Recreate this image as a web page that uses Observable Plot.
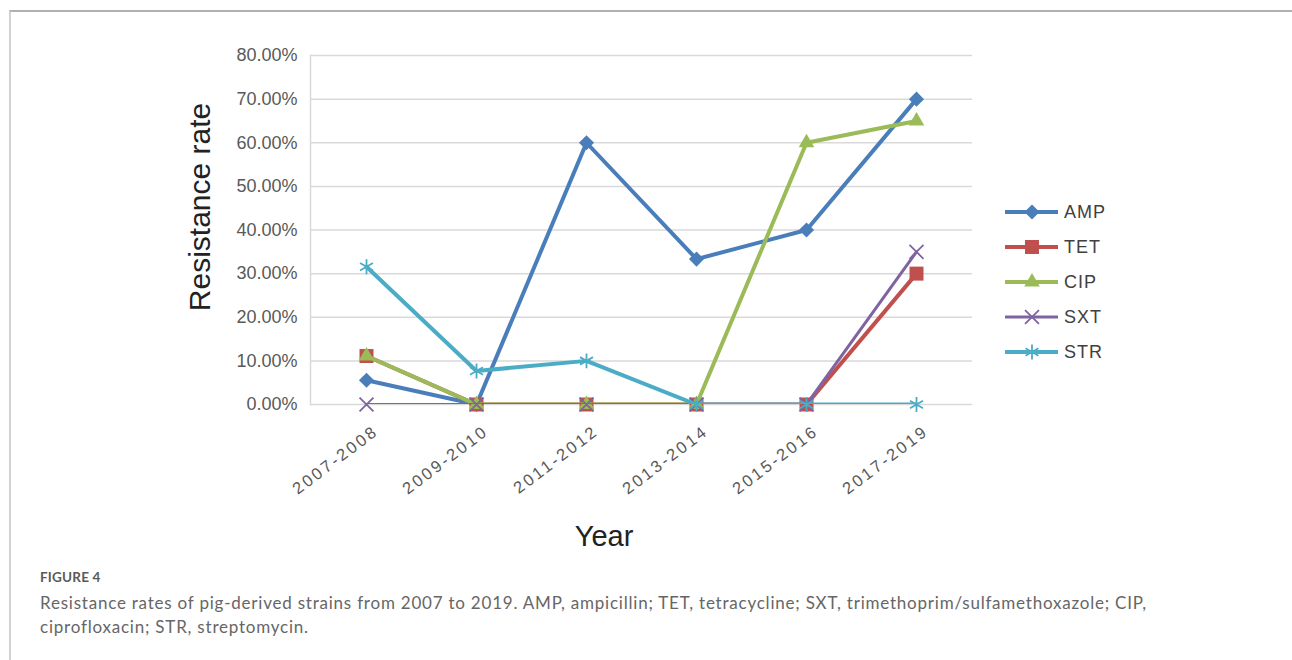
<!DOCTYPE html>
<html><head><meta charset="utf-8">
<script src="https://cdn.jsdelivr.net/npm/d3@7"></script>
<script src="https://cdn.jsdelivr.net/npm/@observablehq/plot@0.6"></script>
<style>
html,body{margin:0;padding:0;background:#fff}
body{width:1292px;height:660px;overflow:hidden;position:relative;font-family:"Liberation Sans",Arial,sans-serif}
#box{position:absolute;left:9px;top:10px;width:1300px;height:700px;border-top:2px solid #b0b0b0;border-left:2px solid #d2d2d2}
#chart{position:absolute;left:0;top:0}
#legend{position:absolute;left:0;top:0}
.ytitle{position:absolute;left:200px;top:207px;transform:translate(-50%,-50%) rotate(-90deg);font-size:30px;color:#222;white-space:nowrap}
.xtitle{position:absolute;left:604px;top:536px;transform:translate(-50%,-50%);font-size:29px;color:#222;white-space:nowrap}
#fig{position:absolute;left:40px;top:569px;font-family:Lato,"Open Sans",sans-serif;font-size:13.5px;font-weight:700;color:#5a5a5a;letter-spacing:0.2px}
#cap{position:absolute;left:40px;top:591px;width:1130px;font-family:Lato,"Open Sans",sans-serif;font-size:17px;line-height:24px;color:#666;letter-spacing:0.78px}
</style>
</head><body>
<div id="box"></div>
<div id="chart"></div>
<svg id="legend" width="1292" height="560"></svg>
<div class="ytitle">Resistance rate</div>
<div class="xtitle">Year</div>
<div id="fig">FIGURE 4</div>
<div id="cap">Resistance rates of pig-derived strains from 2007 to 2019. AMP, ampicillin; TET, tetracycline; SXT, trimethoprim/sulfamethoxazole; CIP, ciprofloxacin; STR, streptomycin.</div>
<script>
// ---- data ----
const years = ["2007-2008","2009-2010","2011-2012","2013-2014","2015-2016","2017-2019"];
const AMP = [0.0556, 0, 0.60, 0.3333, 0.40, 0.70];
const TET = [0.1111, 0, 0, 0, 0, 0.30];
const CIP = [0.1111, 0, 0, 0, 0.60, 0.65];
const SXT = [0, 0, 0, 0, 0, 0.35];
const STR = [0.3158, 0.0769, 0.10, 0, 0, 0];
const seriesNames = ["AMP","TET","CIP","SXT","STR"];
const yTicks = [0, 0.1, 0.2, 0.3, 0.4, 0.5, 0.6, 0.7, 0.8];

// ---- styles ----
const styles = {
  AMP: {color:"#4a7ebb", symbol:"diamond2", r:6.8, filled:true, width:4},
  TET: {color:"#c0504d", symbol:"square", r:7.9, filled:true, width:4},
  CIP: {color:"#9bbb59", symbol:"triangle", r:5.8, filled:true, width:4},
  SXT: {color:"#8064a2", symbol:"times", r:6.4, filled:false, width:3},
  STR: {color:"#4bacc6", symbol:"asterisk", r:7.1, filled:false, width:4}
};
const valuesBy = {AMP, TET, CIP, SXT, STR};
const rows = seriesNames.map(s => years.map((y,i) => ({series:s, year:y, value:valuesBy[s][i]})));

const marks = [
  Plot.gridY(yTicks, {stroke:"#d9d9d9", strokeOpacity:1, strokeWidth:1.5}),
  Plot.frame({anchor:"left", stroke:"#d9d9d9", strokeWidth:1.5}),
  Plot.axisY(yTicks, {tickSize:0, tickPadding:13, tickFormat:d3.format(".2%"), fontSize:18, fill:"#595959", label:null}),
  Plot.text(years, {x:d=>d, frameAnchor:"bottom", rotate:-37, textAnchor:"end", dx:13, dy:29, fontSize:16.5, fill:"#595959"})
];
seriesNames.forEach((s, k) => {
  const st = styles[s];
  marks.push(Plot.line(rows[k], {x:"year", y:"value", stroke:st.color, strokeWidth:st.width, clip:true, strokeLinejoin:"round"}));
  marks.push(Plot.dot(rows[k], {x:"year", y:"value", symbol:()=>st.symbol, r:st.r,
    fill: st.filled ? st.color : "none", stroke: st.filled ? "none" : st.color, strokeWidth: st.filled ? 0 : 1.8}));
});

const chart = Plot.plot({
  width:1292, height:560,
  marginLeft:310, marginRight:320, marginTop:55, marginBottom:156,
  x:{type:"point", domain:years, padding:0.5, axis:null},
  y:{domain:[0,0.8], axis:null},
  symbol:{type:"identity"},
  style:{fontFamily:'"Liberation Sans", Arial, sans-serif', background:"transparent", overflow:"visible"},
  marks
});
d3.select(chart).selectAll('g[aria-label="text"] text').style("letter-spacing","2.6px");
document.getElementById("chart").appendChild(chart);

// ---- legend ----
const symMap = {diamond2:d3.symbolDiamond2, square:d3.symbolSquare, triangle:d3.symbolTriangle, times:d3.symbolTimes, asterisk:d3.symbolAsterisk};
const lg = d3.select("#legend");
seriesNames.forEach((s, i) => {
  const st = styles[s];
  const y = 212 + i*35;
  const g = lg.append("g").attr("transform", `translate(0,${y})`);
  g.append("line").attr("x1",1005).attr("x2",1058).attr("y1",0).attr("y2",0)
    .attr("stroke",st.color).attr("stroke-width",st.width);
  g.append("path").attr("transform","translate(1032,0)")
    .attr("d", d3.symbol(symMap[st.symbol], st.r*st.r*Math.PI)())
    .attr("fill", st.filled ? st.color : "none")
    .attr("stroke", st.filled ? "none" : st.color).attr("stroke-width", 1.8);
  g.append("text").attr("x",1064).attr("y",0).attr("dy","0.35em")
    .attr("font-size",18).attr("fill","#404040").attr("letter-spacing","1px")
    .attr("font-family",'"Liberation Sans", Arial, sans-serif').text(s);
});
</script>
</body></html>
